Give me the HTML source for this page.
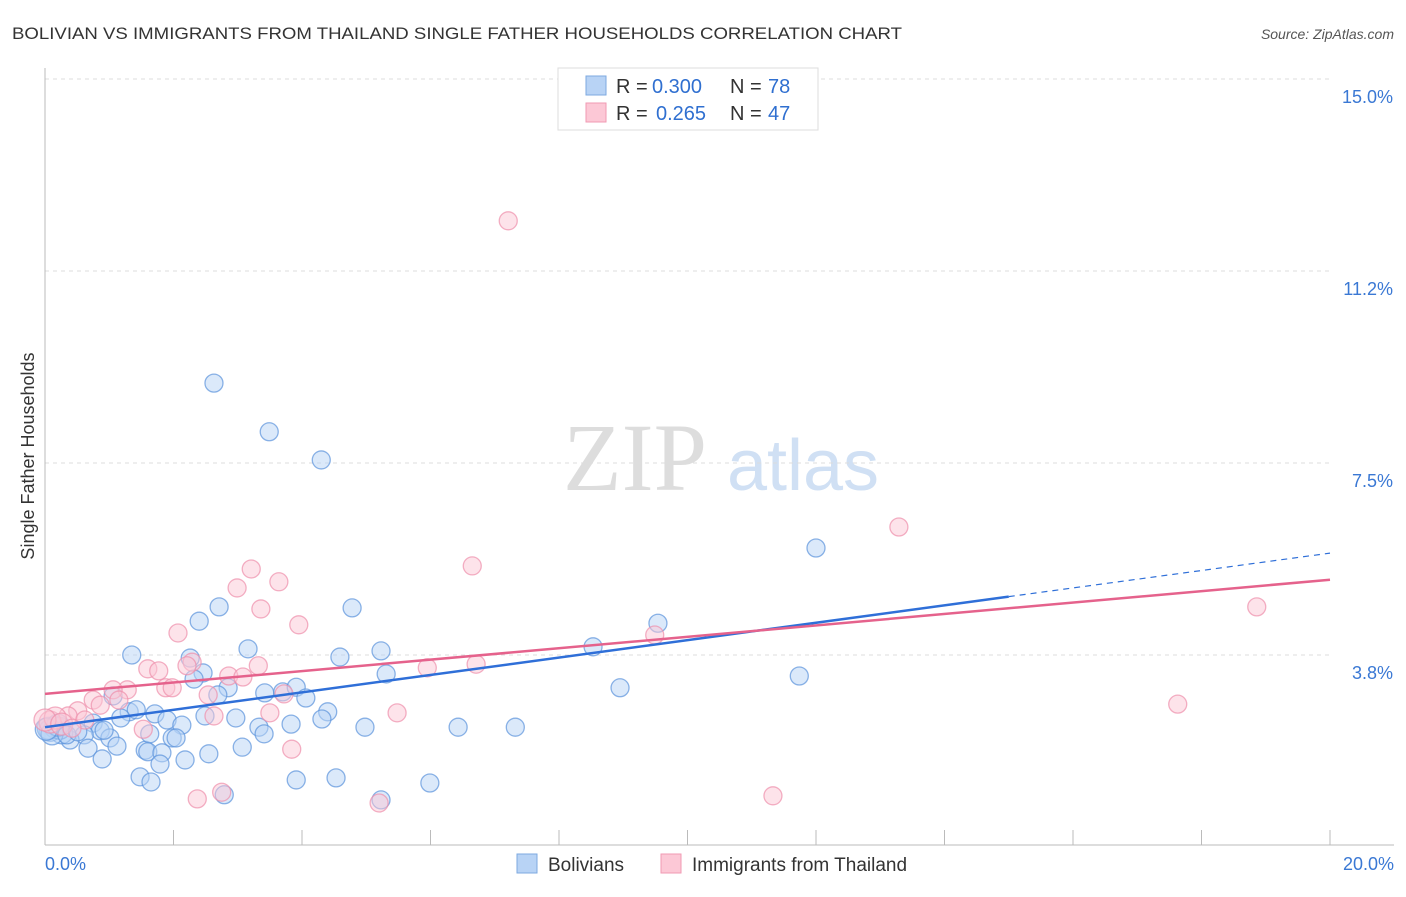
<!DOCTYPE html>
<html><head><meta charset="utf-8"><style>
body{margin:0;background:#fff;font-family:"Liberation Sans",sans-serif}
</style></head><body>
<svg width="1406" height="892" xmlns="http://www.w3.org/2000/svg" id="chart">
<text x="12" y="39" font-size="17" fill="#333" textLength="890" lengthAdjust="spacingAndGlyphs">BOLIVIAN VS IMMIGRANTS FROM THAILAND SINGLE FATHER HOUSEHOLDS CORRELATION CHART</text>
<text x="1394" y="39" font-size="14" fill="#555" font-style="italic" text-anchor="end">Source: ZipAtlas.com</text>
<g>
<text x="635" y="490" font-size="96" fill="#ddd" font-family="Liberation Serif" text-anchor="middle">ZIP</text>
<text x="803" y="490" font-size="72" fill="#d0e0f4" text-anchor="middle">atlas</text>
</g>
<g id="grid"></g><g id="axes"></g><g id="marks"></g>
<text x="34" y="456" font-size="18" fill="#333" text-anchor="middle" transform="rotate(-90 34 456)">Single Father Households</text>
<g>
<rect x="558" y="68" width="260" height="62" fill="#fff" stroke="#ddd"/>
<rect x="586" y="76" width="20" height="19" fill="#b8d3f5" stroke="#7ea9e0"/>
<rect x="586" y="103" width="20" height="19" fill="#fcc8d6" stroke="#f09ab3"/>
<text x="616" y="93" font-size="20" fill="#333">R =</text>
<text x="652" y="93" font-size="20" fill="#2f6fd0">0.300</text>
<text x="730" y="93" font-size="20" fill="#333">N =</text>
<text x="768" y="93" font-size="20" fill="#2f6fd0">78</text>
<text x="616" y="120" font-size="20" fill="#333">R =</text>
<text x="656" y="120" font-size="20" fill="#2f6fd0">0.265</text>
<text x="730" y="120" font-size="20" fill="#333">N =</text>
<text x="768" y="120" font-size="20" fill="#2f6fd0">47</text>
</g>
<g>
<rect x="517" y="854" width="20" height="19" fill="#b8d3f5" stroke="#7ea9e0"/>
<text x="548" y="871" font-size="19" fill="#333">Bolivians</text>
<rect x="661" y="854" width="20" height="19" fill="#fcc8d6" stroke="#f09ab3"/>
<text x="692" y="871" font-size="19" fill="#333">Immigrants from Thailand</text>
</g>
</svg>
<script>
const blueX=[2.63,3.49,4.30,12.00,9.54,8.53,8.95,11.74,2.71,4.78,2.40,3.16,1.35,2.26,4.59,5.23,5.31,2.46,2.32,2.85,2.69,1.06,3.42,3.70,3.91,4.06,4.40,4.31,2.97,2.49,1.71,1.31,1.42,1.18,1.90,2.13,3.33,3.83,4.98,6.43,7.32,3.41,0.75,0.86,0.61,0.39,0.26,0.08,0.16,0.23,1.01,1.12,0.92,0.67,0.89,1.56,1.60,1.82,1.98,2.04,2.18,2.55,3.07,1.79,1.48,1.65,3.91,4.53,5.99,5.23,2.79,0.05,0.11,0.20,0.34,0.51,1.63,0.02];
const blueY=[9.06,8.11,7.56,5.84,4.37,3.91,3.11,3.34,4.69,4.67,4.41,3.87,3.75,3.69,3.71,3.83,3.38,3.40,3.28,3.11,2.97,2.95,3.01,3.03,3.12,2.91,2.64,2.50,2.52,2.56,2.60,2.64,2.68,2.52,2.48,2.38,2.34,2.40,2.34,2.34,2.34,2.21,2.42,2.27,2.19,2.09,2.23,2.28,2.34,2.32,2.13,1.97,2.28,1.93,1.72,1.89,1.86,1.84,2.13,2.13,1.70,1.82,1.95,1.62,1.37,1.27,1.31,1.35,1.25,0.92,1.02,2.32,2.21,2.38,2.19,2.25,2.21,2.30];
const pinkX=[7.21,13.29,6.65,3.21,3.64,2.99,18.86,3.36,3.95,2.07,9.49,2.29,1.60,1.77,2.21,3.32,2.86,3.08,6.71,5.95,1.88,1.98,1.28,1.06,2.54,0.75,1.15,3.72,0.86,0.51,0.36,3.50,2.63,5.48,17.63,1.53,3.84,2.75,2.37,5.20,11.33,0.08,0.16,0.00,0.26,0.62,0.42];
const pinkY=[12.23,6.25,5.49,5.43,5.18,5.06,4.69,4.65,4.34,4.18,4.14,3.61,3.48,3.44,3.54,3.54,3.34,3.32,3.57,3.50,3.11,3.11,3.07,3.07,2.97,2.87,2.87,2.99,2.77,2.66,2.56,2.62,2.56,2.62,2.79,2.30,1.91,1.07,0.94,0.86,1.00,2.44,2.52,2.48,2.40,2.48,2.32];
const blueTrend=[2.34,5.74];
const pinkTrend=[2.99,5.22];
const blueSolidEnd=15.0;
const yTicks=[3.75,7.5,11.25,15];
const yTickLabels=["3.8%","7.5%","11.2%","15.0%"];
const xTicks=[2,4,6,8,10,12,14,16,18,20];

const NS="http://www.w3.org/2000/svg";
const sx=v=>45+v/20*1285;
const sy=v=>847-v*51.2;
function mk(parent,tag,attrs){const e=document.createElementNS(NS,tag);for(const k in attrs)e.setAttribute(k,attrs[k]);document.getElementById(parent).appendChild(e);return e;}
yTicks.forEach((t,i)=>{
  const g=mk('grid','line',{x1:45,x2:1330,y1:sy(t),y2:sy(t),stroke:'#ddd','stroke-dasharray':'4,4'});
  
  
  const l=mk('axes','text',{x:1393,y:sy(t)+24,'font-size':18,fill:'#3a78d4','text-anchor':'end'});
  l.textContent=yTickLabels[i];
  
  
});
let a=mk('axes','line',{x1:45,x2:45,y1:68,y2:845,stroke:'#bbb'});


a=mk('axes','line',{x1:45,x2:1394,y1:845,y2:845,stroke:'#bbb'});


xTicks.forEach(t=>{
  const k=mk('axes','line',{x1:sx(t),x2:sx(t),y1:830,y2:845,stroke:'#bbb'});
  
  
});
let t0=mk('axes','text',{x:45,y:870,'font-size':18,fill:'#3a78d4'});t0.textContent="0.0%";


let t1=mk('axes','text',{x:1394,y:870,'font-size':18,fill:'#3a78d4','text-anchor':'end'});t1.textContent="20.0%";


function dots(X,Y,fill,stroke,name){X.forEach((x,i)=>{
  const r=x<0.3?11:9;
  const c=mk('marks','circle',{cx:sx(x),cy:sy(Y[i]),r:r,fill:fill,'fill-opacity':0.5,stroke:stroke,'stroke-opacity':0.7,'stroke-width':1.3});
  
  
});}
dots(blueX,blueY,'#b8d3f5','#5b93dc','bolivian-point');
dots(pinkX,pinkY,'#fcc8d6','#ee8fab','thailand-point');
const bAt=x=>blueTrend[0]+(blueTrend[1]-blueTrend[0])*x/20;
let ln=mk('marks','line',{x1:sx(0),y1:sy(bAt(0)),x2:sx(blueSolidEnd),y2:sy(bAt(blueSolidEnd)),stroke:'#2f6fd8','stroke-width':2.5});


ln=mk('marks','line',{x1:sx(blueSolidEnd),y1:sy(bAt(blueSolidEnd)),x2:sx(20),y2:sy(bAt(20)),stroke:'#2f6fd8','stroke-width':1.2,'stroke-dasharray':'6,5'});


ln=mk('marks','line',{x1:sx(0),y1:sy(pinkTrend[0]),x2:sx(20),y2:sy(pinkTrend[1]),stroke:'#e5628c','stroke-width':2.5});


</script>
</body></html>
